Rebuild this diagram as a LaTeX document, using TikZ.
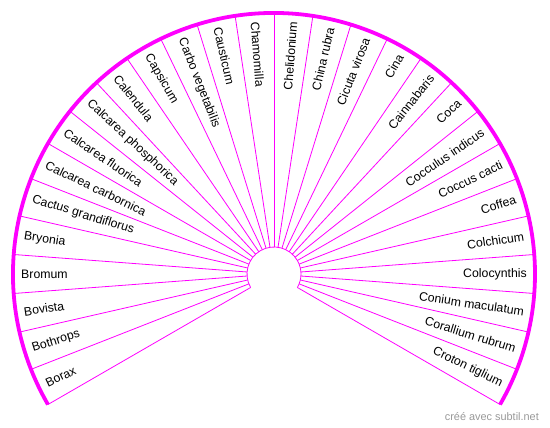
\documentclass[tikz,border=0pt]{standalone}
\usepackage{fontspec}
\setmainfont{Liberation Sans}
\definecolor{fanpink}{RGB}{255,0,255}

\begin{document}
\begin{tikzpicture}[x=1pt,y=1pt,
  ray/.style={fanpink,line width=.8pt},
  rim/.style={fanpink,line width=3.8pt},
  lab/.style={font=\fontsize{12.3}{14}\selectfont,inner sep=0pt,text=black}]
\useasboundingbox (0,0) rectangle (550,428);
\pgfmathsetmacro{\Ro}{261}
\pgfmathsetmacro{\Ri}{27}
\pgfmathsetmacro{\da}{240/28}
\begin{scope}[shift={(274,154)}]
  \foreach \k in {0,...,28}{
    \pgfmathsetmacro{\b}{210-\k*\da}
    \draw[ray] (\b:\Ri) -- (\b:\Ro);
  }
  \draw[ray] (210:\Ri) arc[start angle=210,end angle=-30,radius=\Ri];
  \draw[rim] (210:\Ro) arc[start angle=210,end angle=-30,radius=\Ro];
  \foreach \name [count=\i from 0] in {Borax,Bothrops,Bovista,Bromum,Bryonia,
    Cactus grandiflorus,Calcarea carbornica,Calcarea fluorica,
    Calcarea phosphorica,Calendula,Capsicum,Carbo vegetabilis,Causticum,
    Chamomilla,Chelidonium,China rubra,Cicuta virosa,Cina,Cainnabaris,Coca,
    Cocculus indicus,Coccus cacti,Coffea,Colchicum,Colocynthis,
    Conium maculatum,Corallium rubrum,Croton tiglium}{
    \pgfmathsetmacro{\a}{210-(\i+.5)*\da}
    \ifdim\a pt>90pt
      \node[lab,anchor=west,rotate=\a-180] (l\i) at (\a:\Ro-8) {\name};
    \else
      \node[lab,anchor=east,rotate=\a] (l\i) at (\a:\Ro-8) {\name};
    \fi
  }
\end{scope}
\node[anchor=east,text=black!40,font=\fontsize{10.9}{13}\selectfont,inner sep=0pt]
  (credit) at (539,11) {créé avec subtil.net};
\end{tikzpicture}
\end{document}
